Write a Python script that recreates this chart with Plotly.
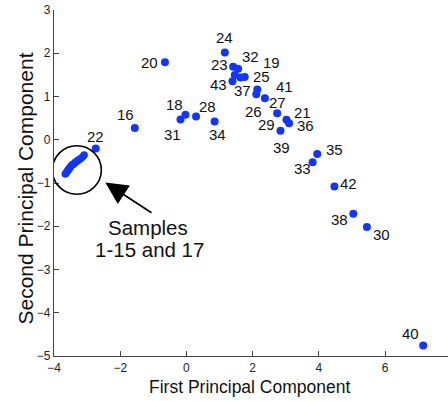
import plotly.graph_objects as go

# Samples 1-15 and 17 (tight cluster)
cluster_ids = [1, 2, 3, 4, 5, 6, 7, 8, 9, 10, 11, 12, 13, 14, 15, 17]
cluster_pc1 = [-3.66, -3.63, -3.60, -3.57, -3.55, -3.52, -3.49, -3.45,
               -3.42, -3.38, -3.35, -3.30, -3.26, -3.20, -3.14, -3.09]
cluster_pc2 = [-0.79, -0.77, -0.73, -0.70, -0.67, -0.65, -0.61, -0.58,
               -0.57, -0.54, -0.52, -0.49, -0.47, -0.44, -0.40, -0.35]

# Labelled samples
sample_ids = [16, 20, 22, 18, 31, 28, 34, 24, 23, 32, 43, 37, 25, 19,
              41, 26, 27, 29, 21, 36, 39, 35, 33, 42, 38, 30, 40]
sample_pc1 = [-1.56, -0.65, -2.74, -0.03, -0.18, 0.29, 0.85, 1.16, 1.41, 1.56,
              1.39, 1.46, 1.63, 1.76, 2.14, 2.11, 2.37, 2.74, 3.02, 3.10,
              2.84, 3.95, 3.81, 4.47, 5.04, 5.45, 7.15]
sample_pc2 = [0.27, 1.79, -0.20, 0.58, 0.47, 0.54, 0.42, 2.02, 1.69, 1.64,
              1.35, 1.50, 1.44, 1.45, 1.16, 1.05, 0.96, 0.61, 0.46, 0.38,
              0.21, -0.33, -0.52, -1.08, -1.71, -2.02, -4.76]

x_ticks = [-4, -2, 0, 2, 4, 6]
y_ticks = [-5, -4, -3, -2, -1, 0, 1, 2, 3]

# label offsets (pixels, dx right, dy down) -- layout only
label_offsets = [(-9, -14), (-15, 0), (0, -12), (-11, -10), (-8, 15), (11, -10),
                 (3, 13), (0, -15), (-14, -2), (12, -12), (-14, 3), (8, 16),
                 (21, -1), (27, -15), (27, -3), (-3, 17), (13, 4), (-11, 11),
                 (16, -7), (16, 2), (1, 17), (17, -5), (-10, 6), (14, -3),
                 (-14, 6), (15, 7), (-13, -12)]

FONT = "Liberation Sans, Arial, sans-serif"
BLUE = "#1236ff"

fig = go.Figure()
fig.add_trace(go.Scatter(x=cluster_pc1, y=cluster_pc2, mode="markers",
                         text=[str(i) for i in cluster_ids],
                         marker=dict(color=BLUE, size=7.5), showlegend=False,
                         cliponaxis=False))
fig.add_trace(go.Scatter(x=sample_pc1, y=sample_pc2, mode="markers",
                         text=[str(i) for i in sample_ids],
                         marker=dict(color=BLUE, size=8), showlegend=False,
                         cliponaxis=False))

for sid, px, py, (dx, dy) in zip(sample_ids, sample_pc1, sample_pc2, label_offsets):
    fig.add_annotation(x=px, y=py, xref="x", yref="y", text=str(sid),
                       showarrow=False, xshift=dx, yshift=-dy,
                       font=dict(family=FONT, size=15, color="#111"))

# circle around cluster
fig.add_shape(type="circle", xref="x", yref="y",
              x0=-4.05, x1=-2.57, y0=-1.26, y1=-0.14,
              line=dict(color="black", width=1.6))

# arrow
fig.add_annotation(x=-2.45, y=-0.99, xref="x", yref="y",
                   ax=-1.01, ay=-1.71, axref="x", ayref="y",
                   text="", showarrow=True, arrowhead=2, arrowsize=2.6,
                   arrowwidth=1.7, arrowcolor="black")
fig.add_annotation(x=-1.16, y=-2.03, xref="x", yref="y", text="Samples",
                   showarrow=False, font=dict(family=FONT, size=20.5, color="#111"))
fig.add_annotation(x=-1.13, y=-2.53, xref="x", yref="y", text="1-15 and 17",
                   showarrow=False, font=dict(family=FONT, size=20.5, color="#111"))

# axis titles
fig.add_annotation(x=0.497, y=-0.0887, xref="paper", yref="paper",
                   text="First Principal Component", showarrow=False,
                   xanchor="center", yanchor="middle",
                   font=dict(family=FONT, size=17.5, color="#111"))
fig.add_annotation(x=-0.0723, y=0.4827, xref="paper", yref="paper",
                   text="Second Principal Component", showarrow=False,
                   textangle=-90, xanchor="center", yanchor="middle",
                   font=dict(family=FONT, size=21, color="#111"))

axis_common = dict(showgrid=False, zeroline=False, showline=True,
                   linecolor="#444", linewidth=1.3, ticks="inside", ticklen=5,
                   tickcolor="#444", tickwidth=1.2,
                   tickfont=dict(family=FONT, size=12, color="#222"))
fig.update_xaxes(range=[-4, 7.9], tickvals=x_ticks, **axis_common)
fig.update_yaxes(range=[-5, 3], tickvals=y_ticks, **axis_common)

fig.update_layout(width=448, height=401,
                  margin=dict(l=54, r=0, t=10, b=45),
                  plot_bgcolor="white", paper_bgcolor="white",
                  showlegend=False)

fig.write_html("out.html", config={"displayModeBar": False},
               post_script="document.body.style.margin='0';"
                           "document.body.style.overflow='hidden';")
